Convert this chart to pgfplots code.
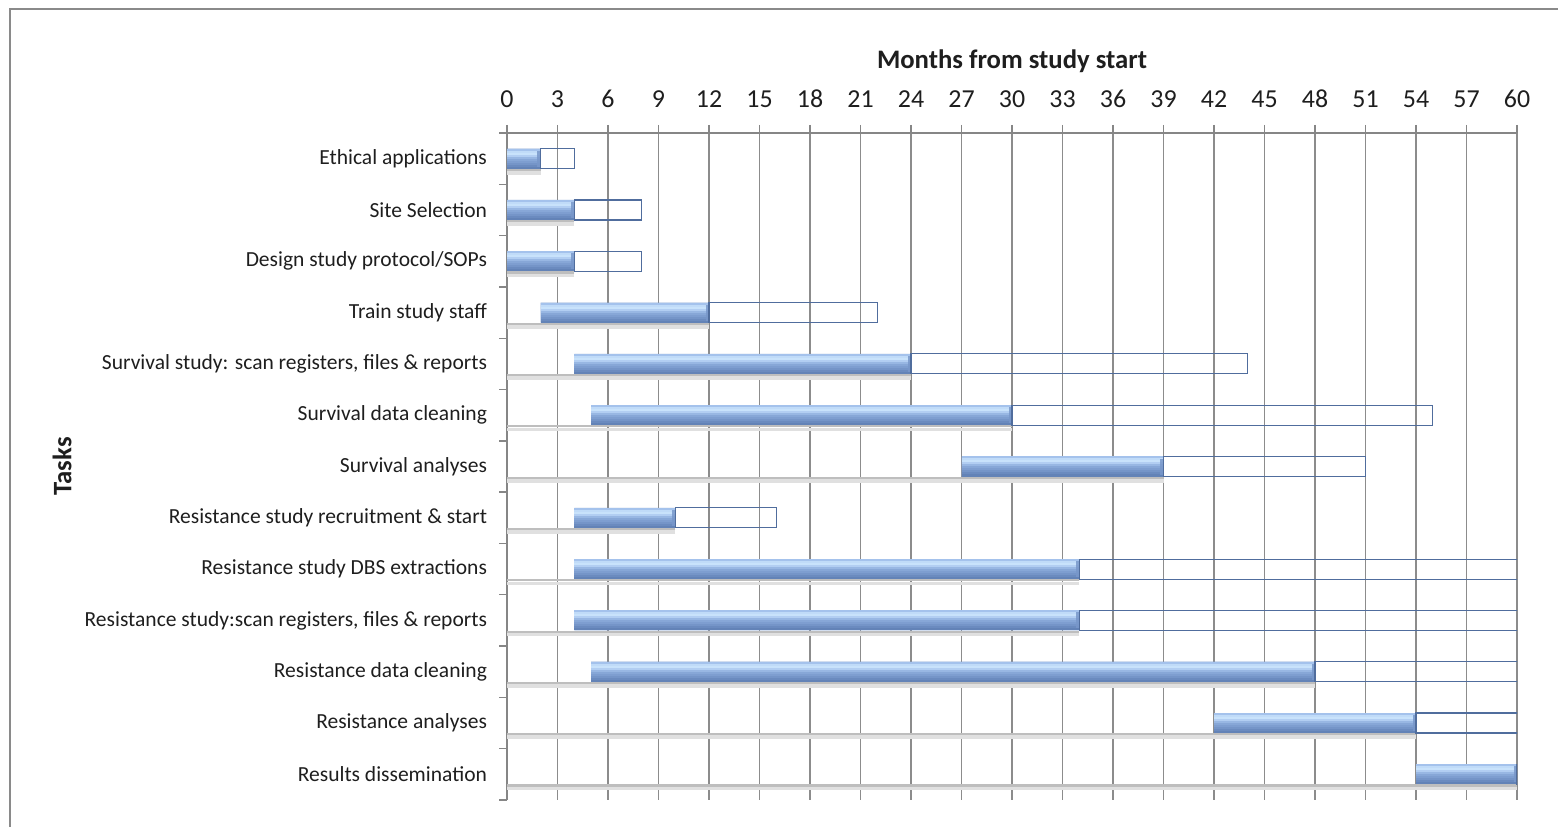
\documentclass[border=0pt]{standalone}
\usepackage{pgfplots}
\usepackage{pgfplotstable}
\pgfplotsset{compat=1.18}
\usepackage{fontspec}
\setmainfont{Carlito}

\definecolor{gridgray}{HTML}{8C8C8C}
\definecolor{axisgray}{HTML}{868686}
\definecolor{framegray}{HTML}{8A8A8A}
\definecolor{textdark}{HTML}{1E1E1E}
\definecolor{baredge}{HTML}{506D9D}
\definecolor{barbase}{HTML}{82A2D3}
\definecolor{barcap}{HTML}{7897CA}
\definecolor{shadowdark}{HTML}{BEBEBE}
\definecolor{shadowlight}{HTML}{E0E0E0}
% bevel ramp, top of the bar to its bottom
\definecolor{bandA}{HTML}{A4C2EC}
\definecolor{bandB}{HTML}{C0DBF8}
\definecolor{bandC}{HTML}{C8E2FB}
\definecolor{bandD}{HTML}{B2CEF2}
\definecolor{bandE}{HTML}{98B7E3}
\definecolor{bandF}{HTML}{87A7D7}
\definecolor{bandG}{HTML}{7E9ED0}
\definecolor{bandH}{HTML}{7595C8}
\definecolor{bandI}{HTML}{6B8BBF}
\definecolor{bandJ}{HTML}{6383B7}

% task schedule: start month, duration, end month, negative duration;
% cap is the width (in months) of the bevelled bar ends
\pgfplotstableread{
row start dur end back zero cap
0  0  2  2  -2  0 0.2
1  0  4  4  -4  0 0.2
2  0  4  4  -4  0 0.2
3  2  10 12 -10 0 0.2
4  4  20 24 -20 0 0.2
5  5  25 30 -25 0 0.2
6  27 12 39 -12 0 0.2
7  4  6  10 -6  0 0.2
8  4  30 34 -30 0 0.2
9  4  30 34 -30 0 0.2
10 5  43 48 -43 0 0.2
11 42 12 54 -12 0 0.2
12 54 6  60 -6  0 0.2
}\tasks

% a horizontal band across each bar, drawn as an error bar from the current stack position
\pgfplotsset{
  band/.style n args={3}{draw=none, fill=none,
    error bars/.cd, x dir=#3, x explicit, error mark=none,
    error bar style={#1, line width=#2}},
}

\begin{document}
\begin{tikzpicture}
\useasboundingbox (0,0) rectangle (779bp,413.5bp);
\draw[framegray, line width=1.3bp] (5bp,-2bp) -- (5bp,409bp) -- (782bp,409bp);
\begin{axis}[
  at={(253.5bp,13.5bp)}, anchor=south west,
  scale only axis, width=505bp, height=333.5bp,
  xbar stacked, bar width=10bp,
  reverse stacked plots=false,
  xmin=0, xmax=60, ymin=-0.5, ymax=12.5,
  y dir=reverse,
  axis x line*=top, axis y line*=left,
  axis line style={axisgray, line width=0.7bp},
  tick align=outside,
  major tick length=4bp,
  tick style={axisgray, line width=0.7bp},
  xtick={0,3,...,60},
  xmajorgrids,
  major grid style={gridgray, line width=0.65bp},
  ytick={-0.5,0.5,...,12.5}, yticklabels={},
  extra y ticks={0,1,...,12},
  extra y tick labels={
    Ethical applications,
    Site Selection,
    Design study protocol/SOPs,
    Train study staff,
    {Survival study: scan registers, files \& reports},
    Survival data cleaning,
    Survival analyses,
    Resistance study recruitment \& start,
    Resistance study DBS extractions,
    {Resistance study:scan registers, files \& reports},
    Resistance data cleaning,
    Resistance analyses,
    Results dissemination},
  extra y tick style={major tick length=0pt, grid=none},
  xticklabel style={font=\fontsize{13}{15}\selectfont, text=textdark, yshift=5bp},
  yticklabel style={font=\fontsize{10.8}{13}\selectfont, text=textdark, xshift=-6.5bp},
  /pgf/number format/assume math mode=true,
  xlabel={\textbf{Months from study start}},
  xlabel style={at={(rel axis cs:0.5,1)}, anchor=base, yshift=32.5bp,
    font=\fontsize{13.4}{15}\selectfont, text=textdark},
  ylabel={\textbf{Tasks}},
  ylabel style={at={([xshift=-222.5bp]rel axis cs:0,0.5)}, anchor=center,
    font=\fontsize{13.4}{15}\selectfont, text=textdark},
]
% offset up to the start month
\addplot[draw=none, fill=none] table[x=start, y=row] {\tasks};
% bar body, with the soft shadow line from month 0 along its lower edge
\addplot[draw=none, fill=barbase,
  error bars/.cd, x dir=minus, x explicit, error mark=none,
  error bar style={shadowdark, line width=1.1bp, yshift=-5.6bp}]
  table[x=dur, y=row, x error=end] {\tasks};
\addplot[band={shadowlight, yshift=-7.1bp}{1.8bp}{minus}] table[x=zero, y=row, x error=end] {\tasks};
% bevel bands, 1bp each from the top edge down
\addplot[band={bandA, yshift=4.5bp}{1.05bp}{minus}]  table[x=zero, y=row, x error=dur] {\tasks};
\addplot[band={bandB, yshift=3.5bp}{1.05bp}{minus}]  table[x=zero, y=row, x error=dur] {\tasks};
\addplot[band={bandC, yshift=2.5bp}{1.05bp}{minus}]  table[x=zero, y=row, x error=dur] {\tasks};
\addplot[band={bandD, yshift=1.5bp}{1.05bp}{minus}]  table[x=zero, y=row, x error=dur] {\tasks};
\addplot[band={bandE, yshift=0.5bp}{1.05bp}{minus}]  table[x=zero, y=row, x error=dur] {\tasks};
\addplot[band={bandF, yshift=-0.5bp}{1.05bp}{minus}] table[x=zero, y=row, x error=dur] {\tasks};
\addplot[band={bandG, yshift=-1.5bp}{1.05bp}{minus}] table[x=zero, y=row, x error=dur] {\tasks};
\addplot[band={bandH, yshift=-2.5bp}{1.05bp}{minus}] table[x=zero, y=row, x error=dur] {\tasks};
\addplot[band={bandI, yshift=-3.5bp}{1.05bp}{minus}] table[x=zero, y=row, x error=dur] {\tasks};
\addplot[band={bandJ, yshift=-4.5bp}{1.05bp}{minus}] table[x=zero, y=row, x error=dur] {\tasks};
% bevelled ends: right end first, then step back to the start for the left end
\addplot[band={barcap, opacity=0.85}{8bp}{minus}] table[x=zero, y=row, x error=cap] {\tasks};
\addplot[band={barcap, opacity=0.85}{8bp}{plus}]  table[x=back, y=row, x error=cap] {\tasks};
% outline over the whole bar, start to end
\addplot[draw=baredge, fill=none, line width=0.6bp] table[x=dur, y=row] {\tasks};
\end{axis}
\end{tikzpicture}
\end{document}
